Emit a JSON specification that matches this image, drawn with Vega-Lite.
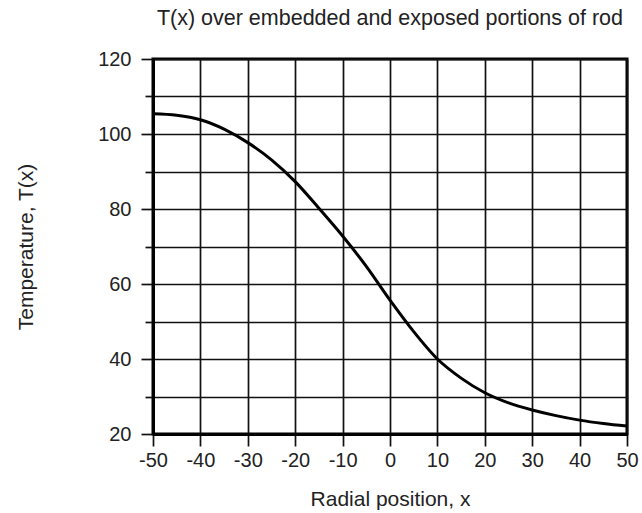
{
  "$schema": "https://vega.github.io/schema/vega-lite/v6.json",
  "width": 474,
  "height": 375,
  "autosize": "none",
  "padding": {"left": 153, "top": 59, "right": 15, "bottom": 79},
  "background": "white",
  "title": {
    "text": "T(x) over embedded and exposed portions of rod",
    "anchor": "end",
    "frame": "group",
    "font": "Liberation Sans",
    "fontSize": 21.5,
    "fontWeight": "normal",
    "color": "#222",
    "baseline": "alphabetic",
    "dx": -4,
    "offset": 3
  },
  "config": {
    "view": {"stroke": "#000", "strokeWidth": 3},
    "axis": {
      "labelFont": "Liberation Sans",
      "labelFontSize": 20,
      "labelColor": "#222",
      "titleFont": "Liberation Sans",
      "titleFontSize": 21,
      "titleFontWeight": "normal",
      "titleColor": "#222",
      "grid": true,
      "gridColor": "#111",
      "gridWidth": 1.7,
      "gridOpacity": 1,
      "tickColor": "#111",
      "tickWidth": 1.7,
      "domainColor": "#000",
      "domainWidth": 3
    }
  },
  "data": {
    "values": [
      {"x": -50, "T": 105.4},
      {"x": -45, "T": 105.0},
      {"x": -40, "T": 103.8},
      {"x": -35, "T": 101.3},
      {"x": -30, "T": 97.7},
      {"x": -25, "T": 93.1},
      {"x": -20, "T": 87.3},
      {"x": -15, "T": 80.2},
      {"x": -10, "T": 72.8},
      {"x": -5, "T": 64.7},
      {"x": 0, "T": 55.7},
      {"x": 5, "T": 47.3},
      {"x": 10, "T": 40.0},
      {"x": 15, "T": 34.9},
      {"x": 20, "T": 31.0},
      {"x": 25, "T": 28.3},
      {"x": 30, "T": 26.4},
      {"x": 35, "T": 24.9},
      {"x": 40, "T": 23.7},
      {"x": 45, "T": 22.8},
      {"x": 50, "T": 22.1}
    ]
  },
  "mark": {"type": "line", "color": "#000", "strokeWidth": 3, "interpolate": "monotone", "clip": true},
  "encoding": {
    "x": {
      "field": "x",
      "type": "quantitative",
      "scale": {"domain": [-50, 50], "nice": false},
      "axis": {
        "values": [-50, -40, -30, -20, -10, 0, 10, 20, 30, 40, 50],
        "labelExpr": "'' + datum.value",
        "tickSize": 12,
        "labelPadding": 4,
        "labelFlush": false,
        "title": "Radial position, x",
        "titleY": 71,
        "titleBaseline": "alphabetic"
      }
    },
    "y": {
      "field": "T",
      "type": "quantitative",
      "scale": {"domain": [20, 120], "nice": false},
      "axis": {
        "values": [20, 30, 40, 50, 60, 70, 80, 90, 100, 110, 120],
        "labelExpr": "datum.value % 20 === 0 ? '' + datum.value : ''",
        "tickSize": {"condition": {"test": "datum.value % 20 === 0", "value": 12}, "value": 8},
        "labelPadding": 10,
        "labelFlush": false,
        "title": "Temperature, T(x)",
        "titleAngle": -90,
        "titleX": -121,
        "titleY": 187.5,
        "titleAlign": "center",
        "titleBaseline": "alphabetic"
      }
    }
  }
}
